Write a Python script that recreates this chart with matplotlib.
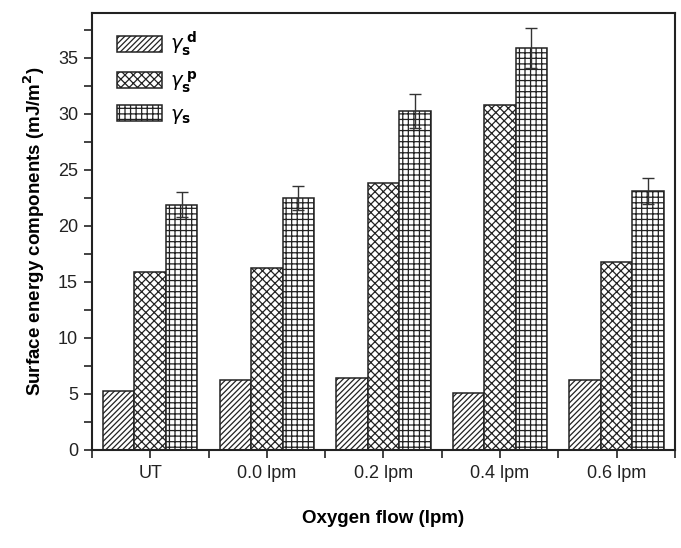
import matplotlib
matplotlib.use("Agg")
import matplotlib.pyplot as plt
import numpy as np
from matplotlib.ticker import MultipleLocator

plt.rcParams['font.family'] = ['Liberation Sans', 'DejaVu Sans']
plt.rcParams['hatch.linewidth'] = 0.9

categories = ["UT", "0.0 lpm", "0.2 lpm", "0.4 lpm", "0.6 lpm"]
gamma_d = [5.3, 6.25, 6.45, 5.05, 6.25]
gamma_p = [15.9, 16.2, 23.8, 30.8, 16.8]
gamma_s = [21.9, 22.5, 30.25, 35.9, 23.1]
gamma_s_err = [1.1, 1.1, 1.5, 1.8, 1.15]

fig = plt.figure(figsize=(6.81, 5.48), dpi=100)
ax = fig.add_axes([0.135, 0.179, 0.856, 0.797])

x = np.arange(len(categories))
w = 0.27
b1 = ax.bar(x - w, gamma_d, w, facecolor='white', edgecolor='#222222', hatch='//////', linewidth=1.1)
b2 = ax.bar(x, gamma_p, w, facecolor='white', edgecolor='#222222', hatch='xxxx', linewidth=1.1)
b3 = ax.bar(x + w, gamma_s, w, facecolor='white', edgecolor='#222222', hatch='+++', linewidth=1.1,
            yerr=gamma_s_err, error_kw=dict(ecolor='#333333', elinewidth=1.0, capsize=4, capthick=1.0))

ax.set_xlim(-0.5, 4.5)
ax.set_ylim(0, 39)
ax.yaxis.set_major_locator(MultipleLocator(5))
ax.yaxis.set_minor_locator(MultipleLocator(2.5))
ax.set_xticks(x)
ax.set_xticklabels(categories)
ax.set_xticks(np.arange(-0.5, 4.6, 1.0), minor=True)
ax.tick_params(axis='both', which='both', direction='out', labelsize=13, width=1.2, colors='#222222')
ax.tick_params(axis='both', which='major', length=6)
ax.tick_params(axis='both', which='minor', length=6)
ax.tick_params(axis='x', pad=5)
ax.tick_params(axis='y', pad=4)
for s in ax.spines.values():
    s.set_linewidth(1.5)
    s.set_color('#222222')

ax.set_xlabel("Oxygen flow (lpm)", fontsize=13.5, fontweight='bold', labelpad=20)
ax.set_ylabel("Surface energy components (mJ/m$^\\mathbf{2}$)", fontsize=13.5, fontweight='bold', labelpad=8)

ax.legend([b1, b2, b3],
          [r"$\gamma_{\mathrm{\mathbf{s}}}^{\ \mathrm{\mathbf{d}}}$",
           r"$\gamma_{\mathrm{\mathbf{s}}}^{\ \mathrm{\mathbf{p}}}$",
           r"$\gamma_{\mathrm{\mathbf{s}}}$"],
          loc='upper left', frameon=False, fontsize=14, handlelength=2.3, handleheight=0.9,
          labelspacing=0.55, handletextpad=0.4, borderaxespad=0.0, bbox_to_anchor=(0.03, 0.98))

fig.savefig("out.png", dpi=100)
